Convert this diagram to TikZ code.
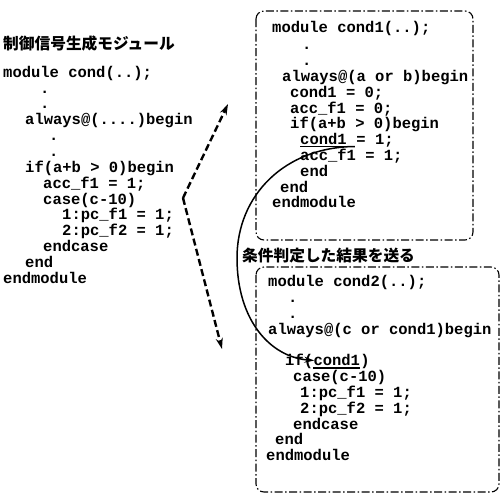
\documentclass[tikz,border=0pt]{standalone}
\usepackage{fontspec}
\newfontfamily\codefont{Liberation Mono}
\newfontfamily\cjkfont{Noto Sans CJK JP}
\usetikzlibrary{arrows.meta}
\begin{document}
\begin{tikzpicture}[x=1pt,y=-1pt,
 code/.style={anchor=base west,inner sep=0pt,font=\codefont\bfseries\fontsize{15.5}{16}\selectfont},
 jp/.style={anchor=base west,inner sep=0pt,font=\cjkfont\bfseries\fontsize{15.7}{16}\selectfont},
 modbox/.style={draw,line width=1.1pt,rounded corners=8pt,dash pattern=on 8pt off 2.5pt on 1.5pt off 2.5pt},
 dasharrow/.style={line width=2.4pt,dash pattern=on 7pt off 3.5pt,-{Stealth[length=11pt,width=7pt]}},
 flow/.style={line width=1.5pt,-{Stealth[length=10pt,width=6pt]}},
 uline/.style={line width=1.3pt}]
\useasboundingbox (0,0) rectangle (502,493);
% title
\node[jp] (title) at (3,49) {制御信号生成モジュール};
% left module
\foreach \x/\y/\t [count=\i] in {
 3/77/{module cond(..);},
 40/93/{.},
 40/108/{.},
 25/124.5/{always@(....)begin},
 49/140/{.},
 49/156/{.},
 25/172/{if(a+b > 0)begin},
 43/188/{acc\_f1 = 1;},
 43/204/{case(c-10)},
 62/219.5/{1:pc\_f1 = 1;},
 62/235/{2:pc\_f2 = 1;},
 43/251/{endcase},
 25/267/{end},
 3/283/{endmodule}}
 \node[code] (L\i) at (\x,\y) {\t};
% dashed arrows
\coordinate (vtx) at (183,198);
\coordinate (upTip) at (228,104);
\coordinate (dnTip) at (222,349);
\draw[dasharrow] (vtx) -- (upTip);
\draw[dasharrow] (vtx) -- (dnTip);
% top right module
\draw[modbox] (256,11) rectangle (473,240);
\foreach \x/\y/\t [count=\i] in {
 272/32/{module cond1(..);},
 302/49/{.},
 302/65/{.},
 282/81/{always@(a or b)begin},
 290/97/{cond1 = 0;},
 290/113/{acc\_f1 = 0;},
 290/128.5/{if(a+b > 0)begin},
 300/160/{acc\_f1 = 1;},
 300/176/{end},
 280/192/{end},
 272/207.5/{endmodule}}
 \node[code] (R\i) at (\x,\y) {\t};
\node[code] (c1) at (300,144) {cond1};
\node[code,anchor=base west] (c1r) at (c1.base east) {\ = 1;};
\coordinate (ulA) at ([yshift=-2.5pt]c1.base west);
\coordinate (ulB) at ([yshift=-2.5pt,xshift=8pt]c1.base east);
\draw[uline] (ulA) -- (ulB);
% label
\node[jp] (lbl) at (242,261) {条件判定した結果を送る};
% bottom right module
\draw[modbox] (256,267) rectangle (499,492);
\foreach \x/\y/\t [count=\i] in {
 268/286/{module cond2(..);},
 288/302/{.},
 288/318/{.},
 268/334/{always@(c or cond1)begin},
 293/381/{case(c-10)},
 300/397/{1:pc\_f1 = 1;},
 300/413/{2:pc\_f2 = 1;},
 293/429/{endcase},
 275/444/{end},
 266/460/{endmodule}}
 \node[code] (B\i) at (\x,\y) {\t};
\node[code] (ifp) at (285,365.5) {if(};
\node[code,anchor=base west] (c2) at (ifp.base east) {cond1};
\node[code,anchor=base west] (c2r) at (c2.base east) {)};
\draw[uline] ([yshift=-2.5pt]c2.base west) -- ([yshift=-2.5pt]c2.base east);
% flow curve
\coordinate (mid) at (237,258);
\coordinate (tip) at ([xshift=1pt,yshift=5pt]ifp.base east);
\draw[flow] (ulB) .. controls (285,147) and (237,195) .. (mid)
 .. controls (237,320) and (270,357) .. (tip);
\end{tikzpicture}
\end{document}
